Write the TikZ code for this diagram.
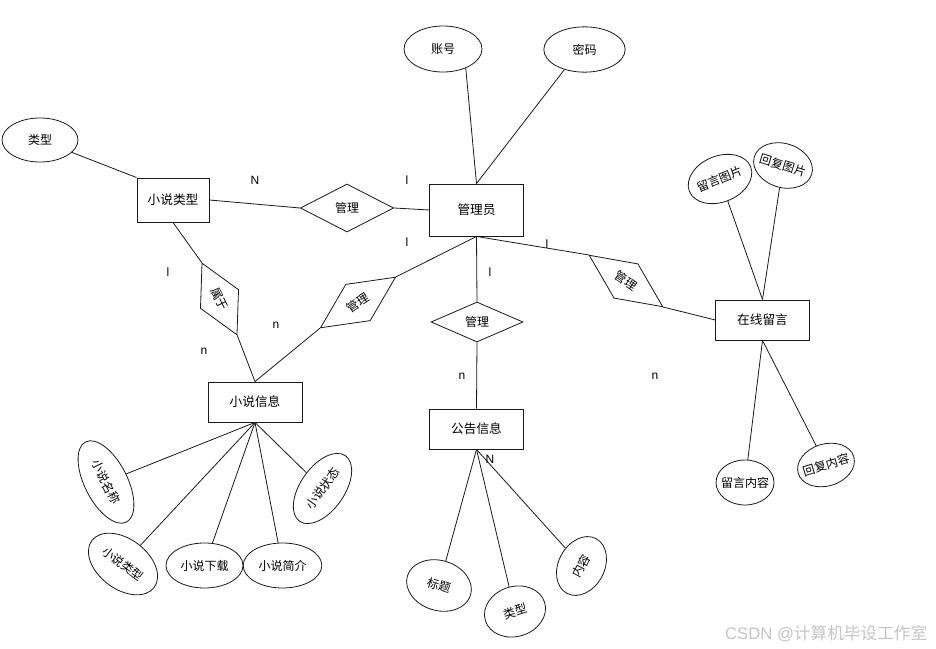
\documentclass[tikz,border=0pt]{standalone}
\usepackage{fontspec}
\setmainfont{Liberation Sans}
\newfontfamily\cjk{Noto Sans CJK SC}
\usetikzlibrary{shapes.geometric,positioning}
\definecolor{ink}{HTML}{1A1A1A}
\definecolor{wmark}{HTML}{C4C4C4}
\newcommand{\zw}[1]{\makebox[0pt]{#1}}

\begin{document}
\begin{tikzpicture}[x=0.75pt, y=-0.75pt,
  ent/.style={draw=ink, line width=0.7pt, inner sep=0pt, font=\cjk\fontsize{9.5}{11}\selectfont},
  attr/.style={ellipse, draw=ink, line width=0.6pt, inner sep=0pt, font=\cjk\fontsize{9}{11}\selectfont},
  rel/.style={diamond, draw=ink, line width=0.6pt, inner sep=0pt, font=\cjk\fontsize{9}{11}\selectfont},
  card/.style={font=\fontsize{9}{11}\selectfont, inner sep=0pt},
  conn/.style={ink, line width=0.6pt}]
  \path[use as bounding box, fill=white] (0,0) rectangle (936,649);

  % entities
  \node[ent, minimum width=54pt, minimum height=33pt] (ntypebox) at (173,200) {小说类型};
  \node[ent, minimum width=70pt, minimum height=39pt] (admin) at (476.5,210) {管理员};
  \node[ent, minimum width=70.5pt, minimum height=30pt] (novel) at (255,402) {小说信息};
  \node[ent, minimum width=70pt, minimum height=30pt] (notice) at (476.5,429) {公告信息};
  \node[ent, minimum width=70pt, minimum height=30pt] (msg) at (762.5,320) {在线留言};

  % relations
  \node[rel, minimum width=70pt, minimum height=36pt] (mng1) at (347,208) {管理};
  \node[rel, minimum width=60pt, minimum height=32pt, rotate=-64] (belong) at (219.5,299) {属于};
  \node[rel, minimum width=68pt, minimum height=33pt, rotate=34] (mng2) at (358,302.5) {管理};
  \node[rel, minimum width=69pt, minimum height=30pt] (mng3) at (477,322) {管理};
  \node[rel, minimum width=67.5pt, minimum height=31.5pt, rotate=-35] (mng4) at (626,281) {管理};

  % attributes
  \node[attr, minimum width=57pt, minimum height=33pt] (atype) at (40,140) {类型};
  \node[attr, minimum width=58.5pt, minimum height=34.5pt] (acct) at (443,49) {账号};
  \node[attr, minimum width=61pt, minimum height=34pt] (pwd) at (584.5,49.5) {密码};
  \node[attr, minimum width=67.5pt, minimum height=32pt, rotate=-63] (nname) at (106,482) {\zw{小说名称}};
  \node[attr, minimum width=58.5pt, minimum height=37.5pt, rotate=-37] (nkind) at (123,564) {\zw{小说类型}};
  \node[attr, minimum width=57.75pt, minimum height=33.75pt] (ndown) at (204.5,565.5) {\zw{小说下载}};
  \node[attr, minimum width=59pt, minimum height=33.75pt] (nintro) at (282.5,565.5) {\zw{小说简介}};
  \node[attr, minimum width=60pt, minimum height=33pt, rotate=55] (nstate) at (322.5,488.5) {\zw{小说状态}};
  \node[attr, minimum width=49.5pt, minimum height=37.5pt, rotate=-17] (ttl) at (439,585.5) {标题};
  \node[attr, minimum width=46.5pt, minimum height=37.5pt, rotate=17] (ktype) at (515,611.5) {类型};
  \node[attr, minimum width=46.5pt, minimum height=34.5pt, rotate=62] (ctt) at (581.5,566) {内容};
  \node[attr, minimum width=49.5pt, minimum height=34.5pt, rotate=22] (mpic) at (720,179) {\zw{留言图片}};
  \node[attr, minimum width=45pt, minimum height=33pt, rotate=-17] (rpic) at (783,165.5) {\zw{回复图片}};
  \node[attr, minimum width=43.5pt, minimum height=33.75pt] (mtext) at (745,482.5) {\zw{留言内容}};
  \node[attr, minimum width=43.5pt, minimum height=31.5pt, rotate=17] (rtext) at (826,465) {\zw{回复内容}};

  % connectors
  \draw[conn] (atype) -- (ntypebox.north west);
  \draw[conn] (ntypebox.east) -- (mng1.west);
  \draw[conn] (mng1.east) -- (admin.west);
  \draw[conn] (acct.-40) -- (admin.north);
  \draw[conn] (pwd.-135) -- (admin.north);
  \draw[conn] (ntypebox.south) -- (belong.west);
  \draw[conn] (belong.east) -- (novel.north);
  \draw[conn] (novel.north) -- (mng2.west);
  \draw[conn] (mng2.east) -- (admin.south);
  \draw[conn] (admin.south) -- (mng3.north);
  \draw[conn] (mng3.south) -- (notice.north);
  \draw[conn] (admin.south) -- (mng4.west);
  \draw[conn] (mng4.east) -- (msg.west);
  \foreach \a in {nname,nkind,ndown,nintro,nstate}
    \draw[conn] (novel.south) -- (\a);
  \foreach \a in {ttl,ktype,ctt}
    \draw[conn] (notice.south) -- (\a);
  \foreach \a in {mpic,rpic}
    \draw[conn] (msg.north) -- (\a);
  \foreach \a in {mtext,rtext}
    \draw[conn] (msg.south) -- (\a);

  % cardinalities
  \node[card] (c1) at (255,180) {N};
  \node[card] (c2) at (407,180) {l};
  \node[card] (c3) at (407,242) {l};
  \node[card] (c4) at (168,272) {l};
  \node[card] (c5) at (276,325) {n};
  \node[card] (c6) at (204,351) {n};
  \node[card] (c7) at (490,272) {l};
  \node[card] (c8) at (462,376) {n};
  \node[card] (c9) at (547,244) {l};
  \node[card] (c10) at (490,459) {N};
  \node[card] (c11) at (655,376) {n};

  \node[text=wmark, font=\fontsize{12.5}{14}\selectfont, anchor=east] (wm) at (932,634) {CSDN @{\cjk 计算机毕设工作室}};
\end{tikzpicture}
\end{document}
